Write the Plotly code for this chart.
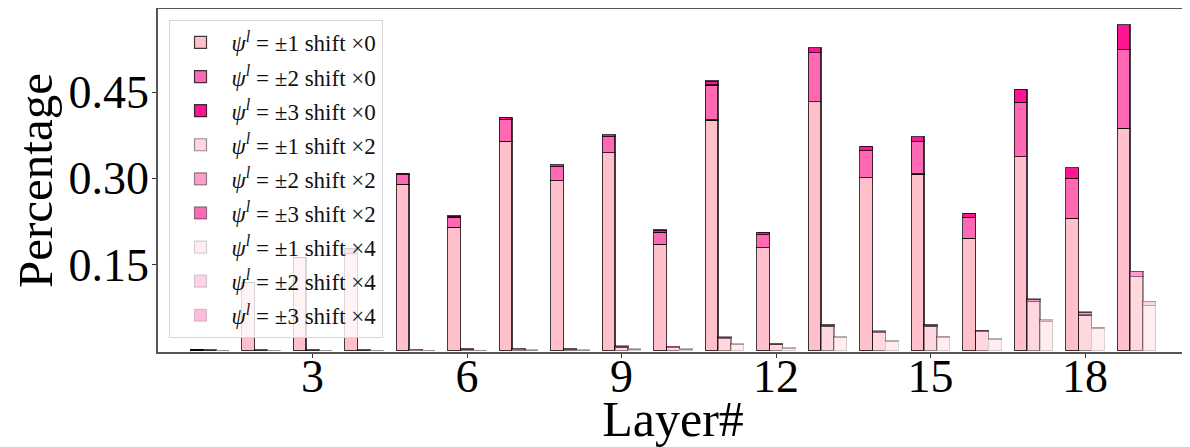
import numpy as np
import plotly.graph_objects as go

layers = list(range(1, 20))

# shift x0
p1_s0 = [0.001, 0.119, 0.1615, 0.169, 0.2896, 0.2145, 0.3646, 0.296, 0.3447, 0.1849,
         0.4017, 0.179, 0.4336, 0.301, 0.3075, 0.1954, 0.3377, 0.2302, 0.3872]
p2_s0 = [0.0, 0.0, 0.0, 0.009, 0.017, 0.018, 0.038, 0.024, 0.028, 0.021,
         0.061, 0.0227, 0.0855, 0.047, 0.0564, 0.0366, 0.0949, 0.0698, 0.1366]
p3_s0 = [0.0, 0.0, 0.0, 0.0005, 0.002, 0.002, 0.004, 0.0035, 0.0035, 0.004,
         0.007, 0.004, 0.0087, 0.008, 0.0087, 0.007, 0.0227, 0.0185, 0.0436]
# shift x2
p1_s2 = [0.0006, 0.0006, 0.0006, 0.0006, 0.0012, 0.0018, 0.0018, 0.002, 0.006, 0.005,
         0.021, 0.010, 0.042, 0.031, 0.042, 0.033, 0.0848, 0.062, 0.1284]
p2_s2 = [0.0003, 0.0003, 0.0003, 0.0003, 0.0006, 0.0009, 0.0012, 0.0012, 0.0015, 0.0018,
         0.002, 0.0015, 0.0025, 0.002, 0.0025, 0.002, 0.0045, 0.0045, 0.0089]
p3_s2 = [0.0001, 0.0001, 0.0001, 0.0001, 0.0002, 0.0003, 0.0005, 0.0003, 0.0005, 0.0007,
         0.0007, 0.0005, 0.0005, 0.001, 0.0005, 0.0004, 0.0007, 0.0009, 0.0010]
# shift x4
p1_s4 = [0.0003, 0.0003, 0.0003, 0.0003, 0.0003, 0.0003, 0.0006, 0.0006, 0.0022, 0.0022,
         0.0105, 0.0042, 0.0232, 0.0163, 0.0238, 0.0198, 0.0515, 0.0385, 0.079]
p2_s4 = [0.0001, 0.0001, 0.0001, 0.0001, 0.0001, 0.0001, 0.0003, 0.0003, 0.0006, 0.0006,
         0.0008, 0.0006, 0.0010, 0.0009, 0.0010, 0.0010, 0.0022, 0.0018, 0.0065]
p3_s4 = [0.0, 0.0, 0.0, 0.0, 0.0, 0.0, 0.0001, 0.0001, 0.0002, 0.0002,
         0.0002, 0.0002, 0.0002, 0.0002, 0.0002, 0.0002, 0.0003, 0.0003, 0.0005]

x_ticks = [3, 6, 9, 12, 15, 18]
y_ticks = [0.15, 0.30, 0.45]
y_tick_labels = ["0.15", "0.30", "0.45"]

names = [
    "<i>ψ</i><sup><i>l</i></sup> = ±1 shift ×0",
    "<i>ψ</i><sup><i>l</i></sup> = ±2 shift ×0",
    "<i>ψ</i><sup><i>l</i></sup> = ±3 shift ×0",
    "<i>ψ</i><sup><i>l</i></sup> = ±1 shift ×2",
    "<i>ψ</i><sup><i>l</i></sup> = ±2 shift ×2",
    "<i>ψ</i><sup><i>l</i></sup> = ±3 shift ×2",
    "<i>ψ</i><sup><i>l</i></sup> = ±1 shift ×4",
    "<i>ψ</i><sup><i>l</i></sup> = ±2 shift ×4",
    "<i>ψ</i><sup><i>l</i></sup> = ±3 shift ×4",
]
series = [p1_s0, p2_s0, p3_s0, p1_s2, p2_s2, p3_s2, p1_s4, p2_s4, p3_s4]
colors = ["#FFC0CB", "#FF69B4", "#FF1493",
          "#FFD8DF", "#FF9ECB", "#FF6CB5",
          "#FFEDF0", "#FFD2E6", "#FFBADC"]
edges = ["rgba(0,0,0,0.75)"] * 3 + ["rgba(0,0,0,0.42)"] * 3 + ["rgba(0,0,0,0.16)"] * 3
offsets = [-0.25] * 3 + [0.0] * 3 + [0.25] * 3
bar_w = 0.25

fig = go.Figure()
lay = np.array(layers, dtype=float)
for i in range(9):
    fig.add_trace(go.Bar(
        x=lay + offsets[i], y=series[i], width=bar_w, name=names[i],
        legendgroup=f"g{i}",
        marker=dict(color=colors[i], line=dict(color=edges[i], width=1.2)),
    ))

serif = "Liberation Serif"
# the page body has an 8px default margin, so the figure is laid out 8px smaller
fig.update_layout(
    width=1182, height=439,
    barmode="stack",
    paper_bgcolor="white", plot_bgcolor="white",
    margin=dict(l=149.5, r=2, t=1, b=95.3, autoexpand=False),
    showlegend=True,
    legend=dict(
        x=0.0102, y=0.968, xanchor="left", yanchor="top",
        bgcolor="rgba(255,255,255,0.8)", bordercolor="#d6d6d6", borderwidth=1,
        font=dict(family=serif, size=23, color="#111"),
        traceorder="grouped", tracegroupgap=1.2, itemwidth=52,
    ),
    font=dict(family=serif, color="black"),
)
fig.update_xaxes(
    range=[0, 20], tickmode="array", tickvals=x_ticks,
    ticks="outside", ticklen=4, tickcolor="#333", tickwidth=1.2,
    tickfont=dict(family=serif, size=46, color="black"),
    ticklabelstandoff=-21,
    showline=True, linecolor="#555", linewidth=1.5, mirror=True,
    showgrid=False, zeroline=False, automargin=True,
    title=dict(text="Layer#", font=dict(family=serif, size=50, color="black"), standoff=6),
)
fig.update_yaxes(
    range=[-0.0025, 0.595], tickmode="array", tickvals=y_ticks, ticktext=y_tick_labels,
    ticks="outside", ticklen=4, tickcolor="#333", tickwidth=1.2,
    tickfont=dict(family=serif, size=46, color="black"),
    ticklabelstandoff=-6,
    showline=True, linecolor="#555", linewidth=1.5, mirror=True,
    showgrid=False, zeroline=False, automargin=True,
    title=dict(text="Percentage", font=dict(family=serif, size=49, color="black"), standoff=0),
)

fig.write_html("out.html")
